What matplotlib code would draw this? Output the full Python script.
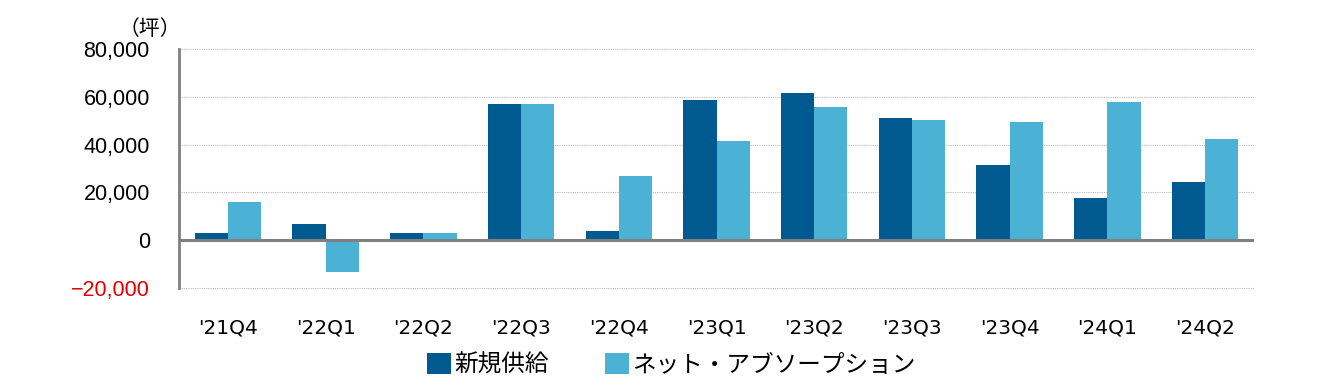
import matplotlib
matplotlib.use("Agg")
import matplotlib.pyplot as plt
import numpy as np
from matplotlib.patches import Patch

categories = ["'21Q4", "'22Q1", "'22Q2", "'22Q3", "'22Q4", "'23Q1", "'23Q2", "'23Q3", "'23Q4", "'24Q1", "'24Q2"]
new_supply = [2900, 6700, 3000, 57000, 3800, 58700, 61700, 51300, 31300, 17500, 24200]
net_absorption = [15800, -13300, 3000, 57000, 26700, 41300, 55800, 50400, 49600, 57900, 42500]
yticks = [-20000, 0, 20000, 40000, 60000, 80000]
series_names = ["新規供給", "ネット・アブソープション"]

dark = "#005A8F"
light = "#4BB2D5"

plt.rcParams['font.family'] = ['Noto Sans CJK JP', 'DejaVu Sans']

fig = plt.figure(figsize=(13.22, 3.92), dpi=100)
ax = fig.add_axes([0.1354, 0.2653, 0.8132, 0.6097])

x = np.arange(len(categories))
w = 0.34
ax.bar(x - w/2, new_supply, width=w, color=dark, zorder=3)
ax.bar(x + w/2, net_absorption, width=w, color=light, zorder=3)

ax.set_xlim(-0.5, len(categories) - 0.5)
ax.set_ylim(-20000, 80000)
ax.set_yticks(yticks)
ax.set_yticklabels([f"{v:,}".replace("-", "−") for v in yticks], fontsize=15.5, family=['Liberation Sans'])
for lab, v in zip(ax.get_yticklabels(), yticks):
    if v < 0:
        lab.set_color("#E00000")
ax.set_xticks(x)
ax.set_xticklabels(categories, fontsize=14.5, family=['DejaVu Sans'])
ax.tick_params(axis='both', length=0)
ax.tick_params(axis='y', pad=21)
ax.tick_params(axis='x', pad=22)

for s in ['top', 'right', 'bottom']:
    ax.spines[s].set_visible(False)
ax.spines['left'].set_color("#808080")
ax.spines['left'].set_linewidth(2)
ax.grid(axis='y', linestyle=(0, (1, 1)), color="#BBBBBB", linewidth=0.8, zorder=0)
for gl in ax.yaxis.get_gridlines():
    gl.set_clip_on(False)
ax.axhline(0, color="#808080", linewidth=2.2, zorder=4)

fig.text(0.1135, 0.927, "（坪）", fontsize=15, ha='center', va='center')

handles = [Patch(facecolor=dark), Patch(facecolor=light)]
fig.legend(handles, series_names, loc='center', bbox_to_anchor=(0.508, 0.069), ncol=2,
           frameon=False, fontsize=17, handlelength=1.0, handleheight=1.0,
           handletextpad=0.15, columnspacing=2.4, borderpad=0.2)

fig.savefig("out.png", dpi=100)
